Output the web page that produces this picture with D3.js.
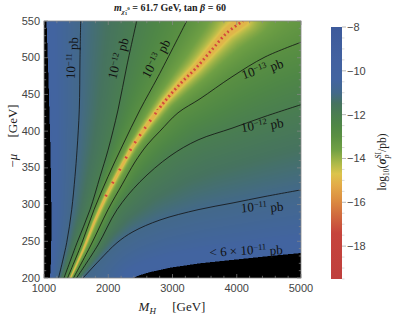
<!DOCTYPE html>
<html>
<head>
<meta charset="utf-8">
<script src="https://cdn.jsdelivr.net/npm/d3@7"></script>
<style>
  body { margin: 0; background: #fff; }
  svg { display: block; }
</style>
</head>
<body>
<div id="chart"></div>
<script>
// contour crossings, [M_H (GeV), -mu (GeV)], bottom to top/right
const blackLeft  = [[1093,200],[1109,224],[1117,279],[1101,374],[1070,470],[1039,550]];
const c11Left    = [[1226,200],[1353,248],[1431,293],[1482,338],[1514,374],[1549,429],[1560,497],[1571,550]];
const c12Left    = [[1311,200],[1514,248],[1716,293],[1872,338],[1996,374],[2152,429],[2292,490],[2443,550]];
const c13Left    = [[1366,200],[1591,248],[1778,293],[1996,338],[2225,381],[2494,429],[2774,474],[3221,550]];
const blindSpot  = [[1412,200],[1607,238],[1778,276],[1965,312],[2152,343],[2370,378],[2619,410],[2883,441],[3148,467],[3366,486],[3615,511],[3848,534],[4097,550]];
const c13Right   = [[1459,200],[1731,245],[1996,293],[2214,327],[2416,358],[2603,381],[2805,400],[3086,425],[3428,444],[3926,474],[4440,501],[5000,521]];
const c12Right   = [[1506,200],[1840,245],[2136,293],[2494,331],[2961,366],[3397,388],[3926,404],[4440,420],[5000,436]];
const c11Right   = [[1607,200],[1872,225],[2136,248],[2385,263],[2805,279],[3397,293],[3926,302],[4440,311],[5000,320]];
const blackRight = [[2385,200],[2494,204],[2650,208],[2961,214],[3428,220],[3973,225],[4517,230],[5000,234]];

// log10(sigma / pb) on each boundary, in the same order; NaN = blind spot (cancellation)
const contourLevels = [-10.22, -11, -12, -13, NaN, -13, -12, -11, -10.22];

// colour bar
const colorbarValues = [-19.5, -17.4, -16.6, -15.9, -15.2, -14.7, -14.2, -13.6, -13, -12.5, -12, -11.5, -11, -10.4, -9.5, -8];
const colorbarColors = ['#bf3f3d','#c6443c','#d06a3e','#dc8d41','#e3ac48','#dcc44c','#aab848','#70a044','#5a9042','#4f8746','#4a7e50','#46735f','#43698a','#4264a0','#4261a0','#3d5a9b'];
const colorbarTicks = [-8, -10, -12, -14, -16, -18];

const xTicks = [1000, 2000, 3000, 4000, 5000];
const yTicks = [200, 250, 300, 350, 400, 450, 500, 550];

const contours = [blackLeft, c11Left, c12Left, c13Left, blindSpot, c13Right, c12Right, c11Right, blackRight];

const width = 395, height = 317;
const x = d3.scaleLinear().domain([1000, 5000]).range([44, 301]);
const y = d3.scaleLinear().domain([200, 550]).range([278, 21]);
const color = d3.scaleLinear().domain(colorbarValues).range(colorbarColors).clamp(true);
const cb = d3.scaleLinear().domain([-19.5, -8]).range([279, 27]);

const svg = d3.select('#chart').append('svg')
    .attr('width', width)
    .attr('height', height)
    .style('font-family', '"Liberation Sans", Arial, sans-serif');

// ---- density field ----
// region index = how many boundaries lie to the upper-left of the point
const polys = contours.map(function (c) {
    const first = c[0], last = c[c.length - 1];
    const p = [[first[0], -1000]].concat(c);
    if (last[1] >= 550) {
        p.push([last[0], 2000]);
        p.push([1e5, 2000]);
    } else {
        p.push([1e5, last[1]]);
    }
    p.push([1e5, -1000]);
    return p;
});
const screenLines = contours.map(c => c.map(d => [x(d[0]), y(d[1])]));

function segDist(px, py, a, b) {
    const dx = b[0] - a[0], dy = b[1] - a[1];
    let t = ((px - a[0]) * dx + (py - a[1]) * dy) / (dx * dx + dy * dy);
    t = Math.max(0, Math.min(1, t));
    const ex = a[0] + t * dx - px, ey = a[1] + t * dy - py;
    return Math.sqrt(ex * ex + ey * ey);
}
function lineDist(px, py, pts) {
    let m = Infinity;
    for (let i = 0; i < pts.length - 1; i++) m = Math.min(m, segDist(px, py, pts[i], pts[i + 1]));
    return m;
}

const lut = d3.range(600).map(i => d3.rgb(color(-19.5 + i * 11.5 / 599)));
const ss = 2;
const x0 = x.range()[0], y0 = y.range()[1];
const pw = x.range()[1] - x0, ph = y.range()[0] - y0;
const canvas = document.createElement('canvas');
canvas.width = pw * ss;
canvas.height = ph * ss;
const ctx = canvas.getContext('2d');
const img = ctx.createImageData(canvas.width, canvas.height);
for (let j = 0; j < canvas.height; j++) {
    for (let i = 0; i < canvas.width; i++) {
        const sx = x0 + (i + 0.5) / ss, sy = y0 + (j + 0.5) / ss;
        const p = [x.invert(sx), y.invert(sy)];
        let k = 0;
        for (const poly of polys) if (d3.polygonContains(poly, p)) k++;
        const o = (j * canvas.width + i) * 4;
        img.data[o + 3] = 255;
        if (k === 0 || k === contours.length) continue; // excluded (black)
        const a = k - 1, b = k;
        const da = lineDist(sx, sy, screenLines[a]), db = lineDist(sx, sy, screenLines[b]);
        const la = contourLevels[a], lb = contourLevels[b];
        let v;
        if (isNaN(la) || isNaN(lb)) {
            const dr = isNaN(la) ? da : db, dl = isNaN(la) ? db : da;
            const s = dr / (dr + dl);
            v = Math.max(-13 + 2 * Math.log10(Math.max(s, 1e-6)), -15.0);
        } else {
            v = la + (lb - la) * da / (da + db);
        }
        const c = lut[Math.round((v + 19.5) / 11.5 * 599)];
        img.data[o] = c.r; img.data[o + 1] = c.g; img.data[o + 2] = c.b;
    }
}
ctx.putImageData(img, 0, 0);

svg.append('defs').append('clipPath').attr('id', 'plotClip')
    .append('rect').attr('x', x0).attr('y', y0).attr('width', pw).attr('height', ph);

svg.append('image')
    .attr('x', x0).attr('y', y0).attr('width', pw).attr('height', ph)
    .attr('preserveAspectRatio', 'none')
    .attr('href', canvas.toDataURL());

const plot = svg.append('g').attr('clip-path', 'url(#plotClip)');
const line = d3.line().x(d => x(d[0])).y(d => y(d[1])).curve(d3.curveCatmullRom);

// red dashes along the blind spot, denser towards the top
const dashBands = [
    { top: 0, bottom: 110, dash: '1.8 2.8' },
    { top: 110, bottom: 160, dash: '1.8 7' },
    { top: 160, bottom: 205, dash: '1.8 13' }
];
dashBands.forEach(function (band, i) {
    svg.select('defs').append('clipPath').attr('id', 'band' + i)
        .append('rect').attr('x', x0).attr('y', Math.max(band.top, y0))
        .attr('width', pw).attr('height', band.bottom - Math.max(band.top, y0));
    svg.append('path')
        .attr('clip-path', 'url(#band' + i + ')')
        .attr('d', line(blindSpot))
        .attr('fill', 'none')
        .attr('stroke', '#d4473c')
        .attr('stroke-width', 2.8)
        .attr('stroke-dasharray', band.dash);
});

plot.selectAll('path.contour')
    .data([c11Left, c12Left, c13Left, c13Right, c12Right, c11Right])
    .enter().append('path')
    .attr('class', 'contour')
    .attr('d', line)
    .attr('fill', 'none')
    .attr('stroke', '#111')
    .attr('stroke-width', 0.8);

// contour labels
const serif = '"Liberation Serif", "DejaVu Serif", serif';
const labelSpots = [
    { exp: '−11', x: 71, y: 58, rot: -88 },
    { exp: '−12', x: 117, y: 58, rot: -75 },
    { exp: '−13', x: 155, y: 58, rot: -62 },
    { exp: '−13', x: 262, y: 68, rot: -20 },
    { exp: '−12', x: 262, y: 124, rot: -10 },
    { exp: '−11', x: 262, y: 206, rot: -5 },
    { exp: '−11', x: 246, y: 250, rot: -4, pre: '< 6 × ' }
];
labelSpots.forEach(function (d) {
    const t = svg.append('text')
        .attr('transform', 'translate(' + d.x + ',' + d.y + ') rotate(' + d.rot + ')')
        .attr('text-anchor', 'middle')
        .attr('dy', '0.35em')
        .style('font-family', serif)
        .style('font-size', '13px')
        .attr('fill', '#111');
    t.append('tspan').text((d.pre || '') + '10');
    t.append('tspan').attr('dy', '-0.45em').style('font-size', '8.5px').text(d.exp);
    t.append('tspan').attr('dy', '0.45em').text(' pb');
});

// ---- frame and ticks ----
svg.append('rect')
    .attr('x', x0).attr('y', y0).attr('width', pw).attr('height', ph)
    .attr('fill', 'none').attr('stroke', '#888').attr('stroke-width', 0.8);

const ticks = svg.append('g').attr('stroke', '#888').attr('stroke-width', 0.7);
d3.range(1000, 5001, 200).forEach(function (v) {
    const len = v % 1000 === 0 ? 4 : 2.2;
    ticks.append('line').attr('x1', x(v)).attr('x2', x(v)).attr('y1', y(200)).attr('y2', y(200) - len);
    ticks.append('line').attr('x1', x(v)).attr('x2', x(v)).attr('y1', y(550)).attr('y2', y(550) + len);
});
d3.range(200, 551, 10).forEach(function (v) {
    const len = v % 50 === 0 ? 4 : 2.2;
    ticks.append('line').attr('y1', y(v)).attr('y2', y(v)).attr('x1', x(1000)).attr('x2', x(1000) + len);
    ticks.append('line').attr('y1', y(v)).attr('y2', y(v)).attr('x1', x(5000)).attr('x2', x(5000) - len);
});

svg.append('g').selectAll('text').data(xTicks).enter().append('text')
    .attr('x', d => x(d)).attr('y', 292)
    .attr('text-anchor', 'middle')
    .style('font-size', '11px').attr('fill', '#444')
    .text(d => d);
svg.append('g').selectAll('text').data(yTicks).enter().append('text')
    .attr('x', 40).attr('y', d => y(d) + 3.5)
    .attr('text-anchor', 'end')
    .style('font-size', '11px').attr('fill', '#444')
    .text(d => d);

// axis titles
const xt = svg.append('text').attr('x', 172).attr('y', 311).attr('text-anchor', 'middle')
    .style('font-family', serif).style('font-size', '13px').attr('fill', '#222');
xt.append('tspan').style('font-style', 'italic').text('M');
xt.append('tspan').attr('dy', 3).style('font-size', '9px').style('font-style', 'italic').text('H');
xt.append('tspan').attr('dy', -3).text('\u2003 [GeV]');

const yt = svg.append('text').attr('transform', 'translate(17,136) rotate(-90)').attr('text-anchor', 'middle')
    .style('font-family', serif).style('font-size', '13px').attr('fill', '#222');
yt.append('tspan').text('−');
yt.append('tspan').style('font-style', 'italic').text('μ');
yt.append('tspan').text('\u2003 [GeV]');

// title
const tt = svg.append('text').attr('x', 170).attr('y', 11).attr('text-anchor', 'middle')
    .style('font-family', serif).style('font-size', '10px').style('font-weight', 'bold').attr('fill', '#222');
tt.append('tspan').style('font-style', 'italic').text('m');
tt.append('tspan').attr('dy', 2.5).style('font-size', '6.5px').style('font-style', 'italic').text('χ̃');
tt.append('tspan').attr('dy', 1).style('font-size', '5px').text('1');
tt.append('tspan').attr('dy', -5).style('font-size', '5px').text('0');
tt.append('tspan').attr('dy', 1.5).text(' = 61.7 GeV,  tan ');
tt.append('tspan').style('font-style', 'italic').text('β');
tt.append('tspan').text(' = 60');

// ---- colour bar ----
const grad = svg.select('defs').append('linearGradient').attr('id', 'cbGrad')
    .attr('x1', 0).attr('x2', 0).attr('y1', 1).attr('y2', 0);
colorbarValues.forEach(function (v, i) {
    grad.append('stop').attr('offset', (v + 19.5) / 11.5).attr('stop-color', colorbarColors[i]);
});
svg.append('rect').attr('x', 331).attr('y', cb(-8)).attr('width', 11).attr('height', cb(-19.5) - cb(-8))
    .attr('fill', 'url(#cbGrad)');

const cbt = svg.append('g');
d3.range(-19.5, -7.9, 0.5).forEach(function (v) {
    const major = colorbarTicks.indexOf(v) >= 0;
    cbt.append('line').attr('x1', 342).attr('x2', major ? 346 : 344.5)
        .attr('y1', cb(v)).attr('y2', cb(v))
        .attr('stroke', major ? '#999' : '#ccc').attr('stroke-width', 0.7);
});
cbt.selectAll('text').data(colorbarTicks).enter().append('text')
    .attr('x', 347).attr('y', d => cb(d) + 4)
    .style('font-size', '11px').attr('fill', '#444')
    .text(d => d3.format('d')(d));

const cl = svg.append('text').attr('transform', 'translate(386,162) rotate(-90)').attr('text-anchor', 'middle')
    .style('font-family', serif).style('font-size', '11.5px').attr('fill', '#222');
cl.append('tspan').text('log');
cl.append('tspan').attr('dy', 3).style('font-size', '7.5px').text('10');
cl.append('tspan').attr('dy', -3).text('(');
cl.append('tspan').style('font-style', 'italic').style('font-weight', 'bold').text('σ');
cl.append('tspan').attr('dy', 3).style('font-size', '7.5px').style('font-style', 'italic').text('p');
cl.append('tspan').attr('dy', -8).attr('dx', -4).style('font-size', '7.5px').text('SI');
cl.append('tspan').attr('dy', 5).text('/pb)');
</script>
</body>
</html>
